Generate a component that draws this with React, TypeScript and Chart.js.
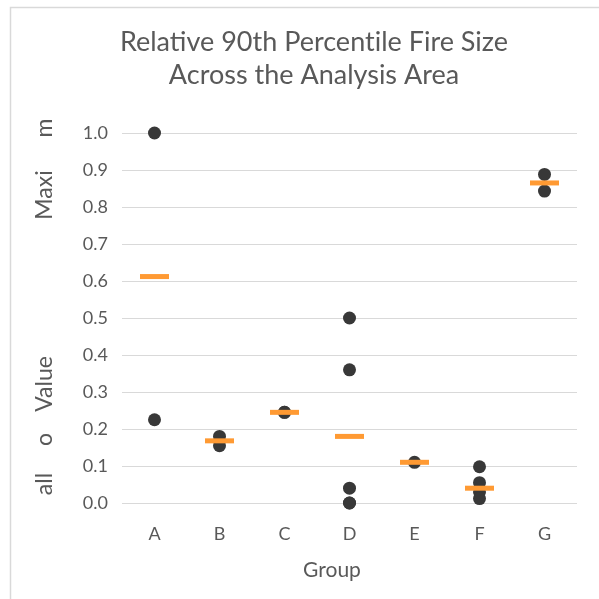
import React, { useEffect, useRef } from 'react';
import { Chart, registerables } from 'chart.js';

Chart.register(...registerables);

const groups = ['A', 'B', 'C', 'D', 'E', 'F', 'G'];
const pointGroups = ['A', 'A', 'B', 'B', 'C', 'C', 'D', 'D', 'D', 'D', 'D', 'E', 'F', 'F', 'F', 'F', 'G', 'G'];
const pointValues = [1.0, 0.225, 0.18, 0.155, 0.245, 0.245, 0.5, 0.36, 0.04, 0.0, 0.0, 0.11, 0.098, 0.055, 0.03, 0.012, 0.888, 0.843];
const meanValues = [0.612, 0.168, 0.245, 0.18, 0.11, 0.04, 0.865];
const titleLines = ['Relative 90th Percent\u200Cile Fire Size', 'Across the Analysis Area'];
const xTitle = 'Group';
const yTitleParts = ['all', 'o', 'Value', 'Maxi', 'm'];

const TEXT = '#595959';
const GRID = '#d9d9d9';
const FONT = 'Lato';

const decorPlugin = {
  id: 'decor',
  beforeDraw(chart: any) {
    const ctx = chart.ctx;
    ctx.save();
    ctx.fillStyle = '#ffffff';
    ctx.fillRect(0, 0, chart.width, chart.height);
    ctx.strokeStyle = GRID;
    ctx.lineWidth = 1.5;
    ctx.strokeRect(10.5, 7.5, 800, 800);
    ctx.restore();
  },
  afterDraw(chart: any) {
    const ctx = chart.ctx;
    ctx.save();
    ctx.fillStyle = TEXT;
    ctx.font = `27px ${FONT}`;
    ctx.textAlign = 'center';
    ctx.textBaseline = 'alphabetic';
    ctx.fillText(titleLines[0], 314, 51);
    ctx.fillText(titleLines[1], 314, 84);
    ctx.font = `21px ${FONT}`;
    ctx.textBaseline = 'middle';
    ctx.fillText(xTitle, 332, 570);
    const centers = [484, 439.5, 384, 195, 128];
    ctx.font = `23px ${FONT}`;
    yTitleParts.forEach((t, i) => {
      ctx.save();
      ctx.translate(52, centers[i]);
      ctx.rotate(-Math.PI / 2);
      ctx.textAlign = 'center';
      ctx.textBaseline = 'alphabetic';
      ctx.fillText(t, 0, 0);
      ctx.restore();
    });
    ctx.restore();
  },
};

function ChartView() {
  const ref = useRef<HTMLCanvasElement | null>(null);
  useEffect(() => {
    if (!ref.current) return;
    Chart.defaults.font.family = FONT;
    const chart = new Chart(ref.current, {
      type: 'scatter',
      data: {
        labels: groups,
        datasets: [
          {
            label: 'Mean',
            data: groups.map((g, i) => ({ x: g, y: meanValues[i] })) as any,
            pointStyle: 'line',
            pointRadius: 14.5,
            pointHoverRadius: 14.5,
            borderWidth: 5,
            pointBorderWidth: 5,
            borderColor: '#ff9a33',
            backgroundColor: '#ff9a33',
            showLine: false,
            clip: false as any,
          },
          {
            label: 'Values',
            data: pointGroups.map((g, i) => ({ x: g, y: pointValues[i] })) as any,
            pointStyle: 'circle',
            pointRadius: 6.5,
            pointHoverRadius: 6.5,
            pointBorderWidth: 0,
            borderWidth: 0,
            backgroundColor: '#383838',
            borderColor: '#383838',
            showLine: false,
            clip: false as any,
          },
        ],
      },
      options: {
        responsive: false,
        animation: false,
        devicePixelRatio: 1,
        layout: { padding: { top: 133, left: 0, right: 22, bottom: 0 } },
        plugins: {
          legend: { display: false },
          tooltip: { enabled: false },
          title: { display: false },
        },
        scales: {
          x: {
            type: 'category',
            labels: groups,
            offset: true,
            grid: { display: false, drawTicks: false },
            border: { display: false },
            ticks: { color: TEXT, font: { size: 18, family: FONT }, padding: 20 },
            afterFit: (s: any) => { s.height = 96; },
          },
          y: {
            type: 'linear',
            min: 0,
            max: 1,
            grid: { color: GRID, lineWidth: 1, drawTicks: false },
            border: { display: false },
            ticks: {
              stepSize: 0.1,
              color: TEXT,
              font: { size: 18, family: FONT },
              padding: 14,
              callback: (v: any) => Number(v).toFixed(1),
            },
            afterFit: (s: any) => { s.width = 122; },
          },
        },
      },
      plugins: [decorPlugin],
    });
    return () => chart.destroy();
  }, []);
  return <canvas ref={ref} width={599} height={599} style={{ width: 599, height: 599, display: 'block' }} />;
}

export default function App() {
  return (
    <div style={{ position: 'fixed', left: 0, top: 0, width: 599, height: 599, background: '#fff' }}>
      <ChartView />
    </div>
  );
}
